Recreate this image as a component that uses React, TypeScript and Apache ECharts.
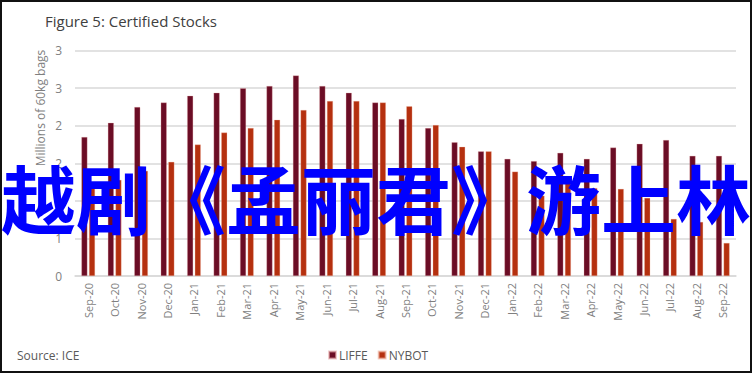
import React, { useEffect, useRef } from "react";
import * as echarts from "echarts";

const categories = [
  "Sep-20", "Oct-20", "Nov-20", "Dec-20", "Jan-21", "Feb-21", "Mar-21", "Apr-21", "May-21",
  "Jun-21", "Jul-21", "Aug-21", "Sep-21", "Oct-21", "Nov-21", "Dec-21", "Jan-22", "Feb-22",
  "Mar-22", "Apr-22", "May-22", "Jun-22", "Jul-22", "Aug-22", "Sep-22",
];
const liffe = [
  1.85, 2.04, 2.25, 2.31, 2.4, 2.44, 2.5, 2.53, 2.67, 2.53, 2.44, 2.31, 2.09, 1.97, 1.78, 1.66,
  1.56, 1.53, 1.64, 1.56, 1.71, 1.76, 1.81, 1.6, 1.6,
];
const nybot = [
  1.2, 1.28, 1.4, 1.52, 1.75, 1.91, 1.97, 2.08, 2.21, 2.33, 2.33, 2.31, 2.26, 2.01, 1.72, 1.66,
  1.39, 1.07, 1.24, 1.17, 1.16, 1.04, 0.76, 0.72, 0.44,
];
const yTicks = { min: 0, max: 3, interval: 0.5 };
const titleText = "Figure 5: Certified Stocks";
const yAxisName = "Millions of 60kg bags";
const sourceText = "Source: ICE";
const watermark = "越剧《孟丽君》游上林";

const FONT = '"Open Sans", "Noto Sans", sans-serif';

export default function App() {
  const ref = useRef<HTMLDivElement>(null);
  useEffect(() => {
    if (!ref.current) return;
    const chart = echarts.init(ref.current, null, { renderer: "svg" });
    chart.setOption({
      animation: false,
      backgroundColor: "#ffffff",
      textStyle: { fontFamily: FONT },
      grid: { left: 75, right: 17, top: 50.7, bottom: 99, containLabel: false },
      legend: {
        data: ["LIFFE", "NYBOT"],
        left: 323,
        top: 344,
        icon: "rect",
        itemWidth: 7,
        itemHeight: 7,
        itemGap: 10,
        textStyle: { color: "#595959", fontSize: 12, fontFamily: FONT, padding: [0, 0, 0, -2] },
      },
      xAxis: {
        type: "category",
        data: categories,
        axisLine: { show: true, lineStyle: { color: "#d9d9d9", width: 1.5 } },
        axisTick: { show: false },
        axisLabel: {
          rotate: 90,
          margin: 7,
          interval: 0,
          color: "#7f7f7f",
          fontSize: 11,
          fontFamily: FONT,
        },
      },
      yAxis: {
        type: "value",
        min: yTicks.min,
        max: yTicks.max,
        interval: yTicks.interval,
        axisLine: { show: false },
        axisTick: { show: false },
        splitLine: { lineStyle: { color: "#d9d9d9", width: 1.5 } },
        axisLabel: {
          margin: 13,
          color: "#7f7f7f",
          fontSize: 12,
          fontFamily: FONT,
          formatter: (v: number) => String(Math.round(v)),
        },
      },
      series: [
        {
          name: "LIFFE",
          type: "bar",
          data: liffe,
          barWidth: 6,
          barGap: "27%",
          itemStyle: { color: "#6b0d25", borderColor: "rgba(230,170,170,0.6)", borderWidth: 0.5 },
        },
        {
          name: "NYBOT",
          type: "bar",
          data: nybot,
          barWidth: 6,
          itemStyle: { color: "#b5300f", borderColor: "rgba(240,180,160,0.6)", borderWidth: 0.5 },
        },
      ],
      graphic: [
        {
          type: "rect",
          shape: { x: 1, y: 1, width: 750, height: 371 },
          style: { fill: "none", stroke: "#111111", lineWidth: 2 },
          z: 100,
        },
        {
          type: "text",
          x: 45,
          y: 21,
          style: {
            text: titleText,
            fill: "#404040",
            fontSize: 15,
            fontFamily: FONT,
            verticalAlign: "middle",
            textVerticalAlign: "middle",
          },
        },
        {
          type: "text",
          x: 40,
          y: 108,
          rotation: Math.PI / 2,
          style: {
            text: yAxisName,
            fill: "#7f7f7f",
            fontSize: 12,
            fontFamily: FONT,
            align: "center",
            textAlign: "center",
            verticalAlign: "middle",
            textVerticalAlign: "middle",
          },
        },
        {
          type: "text",
          x: 17,
          y: 355,
          style: {
            text: sourceText,
            fill: "#595959",
            fontSize: 12,
            fontFamily: FONT,
            verticalAlign: "middle",
            textVerticalAlign: "middle",
          },
        },
        {
          type: "text",
          x: 1,
          y: 196,
          z: 200,
          style: {
            text: watermark,
            fill: "#0000ff",
            fontSize: 75,
            fontWeight: "bold",
            fontFamily: '"Noto Sans CJK SC", sans-serif',
            verticalAlign: "middle",
            textVerticalAlign: "middle",
          },
        },
      ],
    });
    return () => chart.dispose();
  }, []);
  return (
    <div
      ref={ref}
      style={{ position: "fixed", left: 0, top: 0, width: 753, height: 375, background: "#fff" }}
    />
  );
}
